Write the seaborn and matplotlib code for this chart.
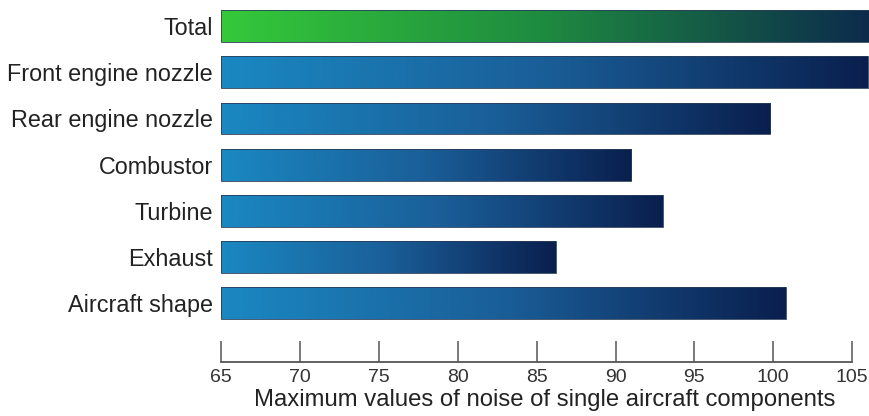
import numpy as np
import pandas as pd
import matplotlib
matplotlib.use("Agg")
import matplotlib.pyplot as plt
from matplotlib.colors import LinearSegmentedColormap
import seaborn as sns

categories = ["Total", "Front engine nozzle", "Rear engine nozzle", "Combustor",
              "Turbine", "Exhaust", "Aircraft shape"]
values = [106.1, 106.0, 99.8, 91.0, 93.0, 86.2, 100.8]
ticks = [65, 70, 75, 80, 85, 90, 95, 100, 105]
xlabel = "Maximum values of noise of single aircraft components"

sns.set_theme(style="white")
plt.rcParams["font.family"] = ["Liberation Sans", "DejaVu Sans"]

fig = plt.figure(figsize=(8.69, 4.16), dpi=100)
ax = fig.add_axes([221 / 869, (416 - 362) / 416, 1 - 221 / 869, 362 / 416])

df = pd.DataFrame({"cat": categories, "val": values})
sns.barplot(data=df, x="val", y="cat", orient="h", ax=ax, width=0.69,
            color="#1a5e98", saturation=1)

xmin = 65
xmax = 65 + (869 - 221) / 15.78
ax.set_xlim(xmin, xmax)
ax.set_ylim(7.27, -0.563)

green = LinearSegmentedColormap.from_list("g", ["#35c93a", "#1e8a40", "#0c2b4c"])
blue = LinearSegmentedColormap.from_list("b", ["#1a88c2", "#1a5e98", "#0a1f4e"])
grad = np.linspace(0, 1, 256).reshape(1, -1)

for i, p in enumerate(ax.patches):
    x0 = xmin
    x1 = p.get_x() + p.get_width()
    y0 = p.get_y()
    y1 = y0 + p.get_height()
    p.set_x(x0)
    p.set_width(x1 - x0)
    p.set_facecolor("none")
    p.set_edgecolor("#2a3d58")
    p.set_linewidth(0.6)
    cmap = green if i == 0 else blue
    im = ax.imshow(grad, cmap=cmap, aspect="auto", extent=[x0, x1, y1, y0],
                   zorder=p.get_zorder() - 0.1, interpolation="bilinear")
    im.set_clip_path(p)
ax.set_xlim(xmin, xmax)
ax.set_ylim(7.27, -0.563)

for s in ["top", "right", "left"]:
    ax.spines[s].set_visible(False)
ax.spines["bottom"].set_bounds(65, 105)
ax.spines["bottom"].set_color("#555555")
ax.spines["bottom"].set_linewidth(1.3)

ax.set_xticks(ticks)
ax.set_xticklabels([str(t) for t in ticks])
ax.tick_params(axis="x", direction="in", length=15, width=1.1, color="#555555",
               pad=5, labelsize=14, labelcolor="#333333", bottom=True)
ax.tick_params(axis="y", length=0, pad=6, labelsize=16.8, labelcolor="#222222")
ax.set_ylabel("")
ax.set_xlabel(xlabel, fontsize=17.2, color="#222222", labelpad=2)

fig.savefig("out.png", dpi=100)
